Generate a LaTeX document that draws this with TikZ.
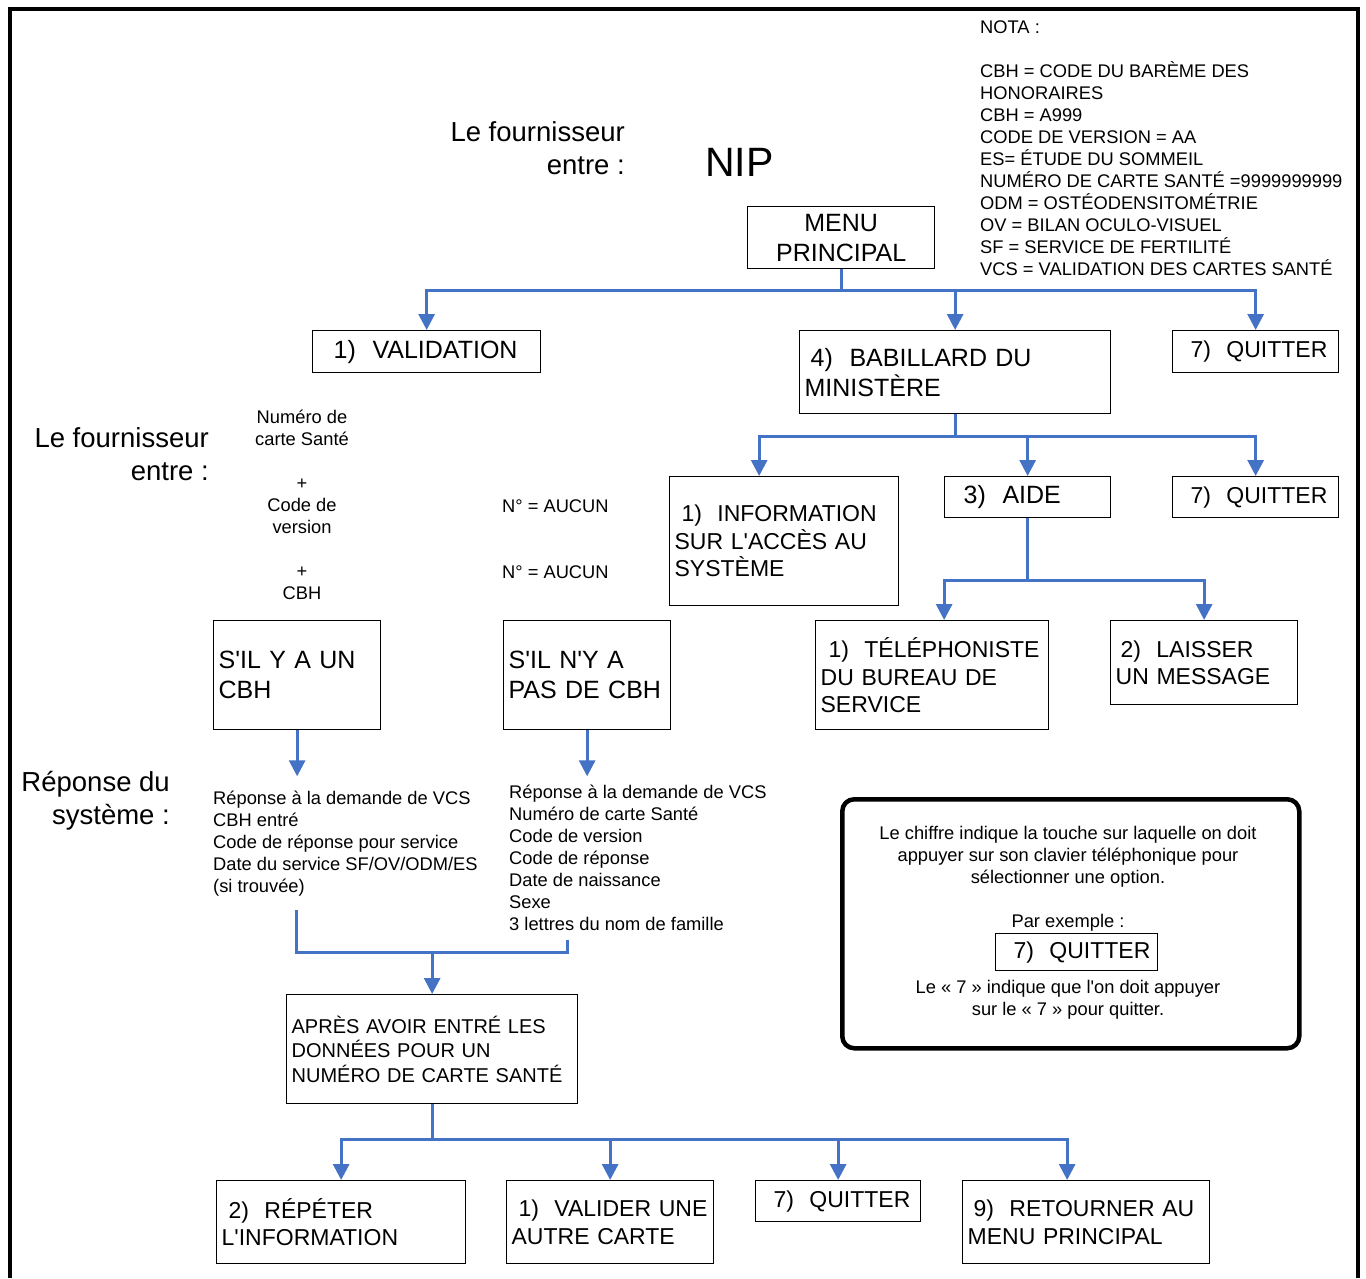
\documentclass[tikz,border=0pt]{standalone}
\usepackage{fontspec}
\setmainfont{Liberation Sans}
\usetikzlibrary{arrows.meta,positioning}
\definecolor{linkblue}{HTML}{4472C4}

\begin{document}
\begin{tikzpicture}[
  x=1pt, y=-1pt,
  box/.style={draw, line width=1.3pt, anchor=north west, align=left, inner xsep=5pt, inner ysep=0pt, font=\fontsize{23}{27.5}\selectfont},
  bigbox/.style={box, font=\fontsize{25}{30}\selectfont},
  txt/.style={inner sep=0pt, align=left, anchor=base west, font=\fontsize{18.3}{22}\selectfont},
  title/.style={inner sep=0pt, align=right, anchor=base east, font=\fontsize{27.5}{33}\selectfont},
  arr/.style={draw=linkblue, line width=3pt, -{Triangle[width=16pt,length=16pt]}},
  wire/.style={draw=linkblue, line width=3pt}
]
\useasboundingbox (0,0) rectangle (1366,1278);
\draw[line width=4pt] (10,1278) -- (10,9) -- (1358,9) -- (1358,1278);

% top: main menu and note (multi-line texts sit on their last baseline)
\node[title] (supplier) at (625,174) {Le fournisseur\\entre :};
\node[anchor=west, inner sep=0pt, font=\fontsize{41}{48}\selectfont] (pin) at (705,162) {NIP};
\node[txt] (nota) at (980,275.5) {NOTA :\\[22pt]CBH = CODE DU BARÈME DES\\HONORAIRES\\CBH = A999\\CODE DE VERSION = AA\\ES= ÉTUDE DU SOMMEIL\\NUMÉRO DE CARTE SANTÉ =9999999999\\ODM = OSTÉODENSITOMÉTRIE\\OV = BILAN OCULO-VISUEL\\SF = SERVICE DE FERTILITÉ\\VCS = VALIDATION DES CARTES SANTÉ};
\node[bigbox, align=center, text width=177pt, minimum height=62pt] (menu) at (747,206) {MENU\\PRINCIPAL};

\node[bigbox, text width=218pt, minimum height=42pt] (valid) at (312,330) {\hspace*{16pt}1)\ \ VALIDATION};
\node[bigbox, text width=301pt, minimum height=83pt] (babil) at (799,330) {\hspace*{6pt}4)\ \ BABILLARD DU\\MINISTÈRE};
\node[box, text width=156pt, minimum height=42pt] (quitA) at (1172,330) {\hspace*{13pt}7)\ \ QUITTER};

% bulletin board branch
\node[box, text width=219pt, minimum height=129pt] (info) at (669,476) {\hspace*{7pt}1)\ \ INFORMATION\\SUR L\textquotesingle ACCÈS AU\\SYSTÈME};
\node[bigbox, text width=156pt, minimum height=41pt] (aide) at (944,476) {\hspace*{14pt}3)\ \ AIDE};
\node[box, text width=156pt, minimum height=41pt] (quitB) at (1172,476) {\hspace*{13pt}7)\ \ QUITTER};
\node[box, text width=223pt, minimum height=109pt] (phone) at (815,620) {\hspace*{8pt}1)\ \ TÉLÉPHONISTE\\DU BUREAU DE\\SERVICE};
\node[box, text width=177pt, minimum height=84pt] (message) at (1110,620) {\hspace*{5pt}2)\ \ LAISSER\\UN MESSAGE};

% validation branch
\node[title] (supplierB) at (209,480) {Le fournisseur\\entre :};
\node[txt, align=center, anchor=base] (entered) at (302,599.5) {Numéro de\\carte Santé\\[22pt]+\\Code de\\version\\[22pt]+\\CBH};
\node[txt] (noneA) at (502,512.5) {N° = AUCUN};
\node[txt] (noneB) at (502,578.5) {N° = AUCUN};
\node[bigbox, text width=157pt, minimum height=109pt] (withcbh) at (213,620) {S\textquotesingle IL Y A UN\\CBH};
\node[bigbox, text width=157pt, minimum height=109pt] (nocbh) at (503,620) {S\textquotesingle IL N\textquotesingle Y A\\PAS DE CBH};
\node[title] (reply) at (170,824) {Réponse du\\système :};
\node[txt] (replyA) at (213,892.5) {Réponse à la demande de VCS\\CBH entré\\Code de réponse pour service\\Date du service SF/OV/ODM/ES\\(si trouvée)};
\node[txt] (replyB) at (509,930.5) {Réponse à la demande de VCS\\Numéro de carte Santé\\Code de version\\Code de réponse\\Date de naissance\\Sexe\\3 lettres du nom de famille};
\node[box, font=\fontsize{20}{24.5}\selectfont, text width=281pt, minimum height=109pt] (after) at (286,994) {APRÈS AVOIR ENTRÉ LES\\DONNÉES POUR UN\\NUMÉRO DE CARTE SANTÉ};
\node[box, text width=239pt, minimum height=83pt] (repeat) at (216,1180) {\hspace*{7pt}2)\ \ RÉPÉTER\\L\textquotesingle INFORMATION};
\node[box, text width=197pt, minimum height=83pt] (another) at (506,1180) {\hspace*{7pt}1)\ \ VALIDER UNE\\AUTRE CARTE};
\node[box, text width=155pt, minimum height=41pt] (quitC) at (755,1180) {\hspace*{13pt}7)\ \ QUITTER};
\node[box, text width=237pt, minimum height=83pt] (back) at (962,1180) {\hspace*{6pt}9)\ \ RETOURNER AU\\MENU PRINCIPAL};

% legend
\node[draw, line width=4.5pt, rounded corners=12pt, anchor=north west, minimum width=457pt, minimum height=249pt, inner sep=0pt] (legend) at (840,797) {};
\node[txt, align=center, anchor=base] (hint) at (1068,883.5) {Le chiffre indique la touche sur laquelle on doit\\appuyer sur son clavier téléphonique pour\\sélectionner une option.};
\node[txt, anchor=base] (forex) at (1068,927.5) {Par exemple :};
\node[box, text width=152pt, minimum height=37pt] (sample) at (995,933) {\hspace*{13pt}7)\ \ QUITTER};
\node[txt, align=center, anchor=base] (hintB) at (1068,1015.5) {Le « 7 » indique que l\textquotesingle on doit appuyer\\sur le « 7 » pour quitter.};

% connectors
\draw[arr] (menu.south) -- ++(0,21) -| (valid.north);
\draw[arr] (menu.south) -- ++(0,21) -| (babil.north);
\draw[arr] (menu.south) -- ++(0,21) -| (quitA.north);
\draw[arr] (babil.south) -- ++(0,22) -| ([xshift=-25pt]info.north);
\draw[arr] (babil.south) -- ++(0,22) -| (aide.north);
\draw[arr] (babil.south) -- ++(0,22) -| (quitB.north);
\draw[arr] (aide.south) -- ++(0,62) -| ([xshift=12pt]phone.north);
\draw[arr] (aide.south) -- ++(0,62) -| (message.north);
\draw[arr] (withcbh.south) -- ++(0,46);
\draw[arr] (nocbh.south) -- ++(0,46);
\coordinate (leftend) at (296,910);
\coordinate (rightend) at (567,940);
\coordinate (merge) at (after.north |- 0,952);
\draw[wire] (leftend) |- (merge) -| (rightend);
\draw[arr] (merge) -- (after.north);
\draw[arr] (after.south) -- ++(0,35) -| (repeat.north);
\draw[arr] (after.south) -- ++(0,35) -| (another.north);
\draw[arr] (after.south) -- ++(0,35) -| (quitC.north);
\draw[arr] (after.south) -- ++(0,35) -| ([xshift=-19pt]back.north);
\end{tikzpicture}
\end{document}
